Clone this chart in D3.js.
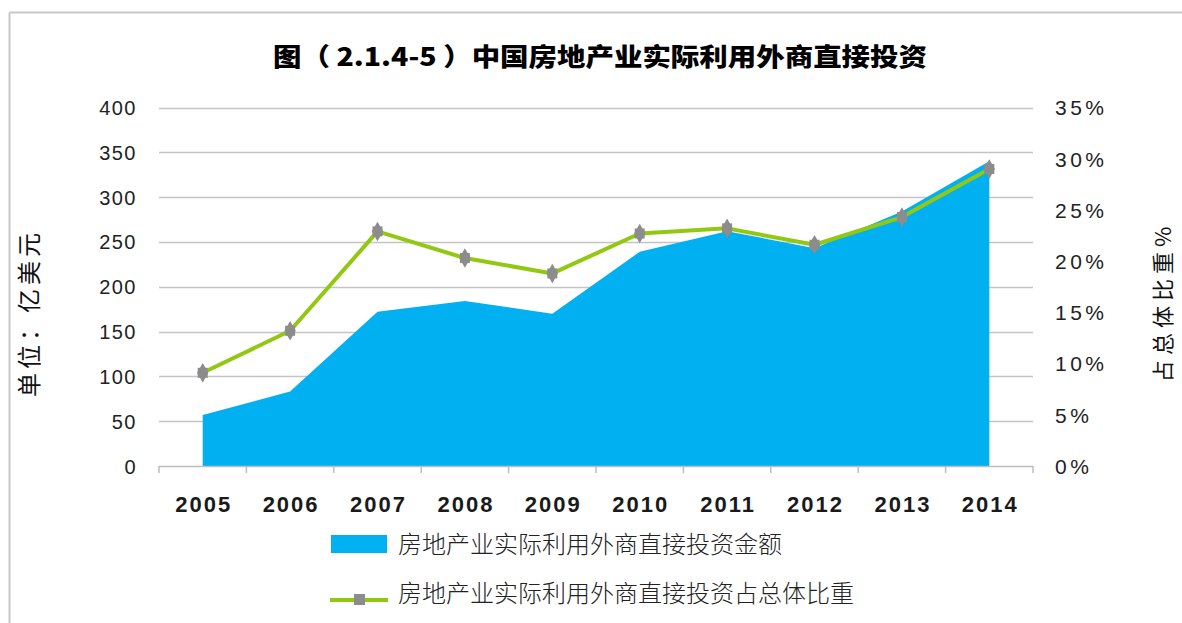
<!DOCTYPE html>
<html><head><meta charset="utf-8">
<script src="https://cdn.jsdelivr.net/npm/d3@7/dist/d3.min.js"></script>
<style>
html,body{margin:0;padding:0;background:#fff;}
svg{display:block;}
</style></head>
<body><svg id="chart" width="1182" height="623"></svg>
<script>
const years = ["2005","2006","2007","2008","2009","2010","2011","2012","2013","2014"];
const amount = [57, 83, 172, 184, 170, 239, 262, 243, 284, 340];
const share = [9.1, 13.2, 22.9, 20.3, 18.8, 22.7, 23.2, 21.6, 24.3, 29.0];
const leftTicks = [0, 50, 100, 150, 200, 250, 300, 350, 400];
const rightTicks = [0, 5, 10, 15, 20, 25, 30, 35];
const titleText = "图（ 2.1.4-5 ）中国房地产业实际利用外商直接投资";
const leftTitle = "单位：亿美元";
const rightTitle = "占总体比重%";
const seriesNames = ["房地产业实际利用外商直接投资金额", "房地产业实际利用外商直接投资占总体比重"];

const svg = d3.select("#chart");
const cjk = "'Noto Sans CJK SC','Noto Sans',sans-serif";
const latin = "'Liberation Sans',Arial,sans-serif";
const blue = "#00B0F0", green = "#92C812", gray = "#8C8C8C";

const L = 159, R = 1033, T = 107.5, B = 466;
const x = d3.scaleBand().domain(years).range([L, R]).padding(0);
const yL = d3.scaleLinear().domain([0, 400]).range([B, T]);
const yR = d3.scaleLinear().domain([0, 35]).range([B, T]);
const cx = d => x(d) + x.bandwidth() / 2;

// frame lines
svg.append("line").attr("x1", 9.5).attr("x2", 1182).attr("y1", 12.5).attr("y2", 12.5).attr("stroke", "#c8c8c8").attr("stroke-width", 2);
svg.append("line").attr("x1", 9.5).attr("x2", 9.5).attr("y1", 12.5).attr("y2", 623).attr("stroke", "#c8c8c8").attr("stroke-width", 2);

// title
svg.append("text").attr("x", 600).attr("y", 66).attr("text-anchor", "middle")
  .attr("font-family", cjk).attr("font-weight", 900).attr("font-size", 25)
  .attr("textLength", 654).attr("lengthAdjust", "spacingAndGlyphs")
  .attr("fill", "#000").text(titleText);

// gridlines
svg.append("g").selectAll("line").data(leftTicks.filter(d => d > 0)).join("line")
  .attr("x1", L).attr("x2", R).attr("y1", d => Math.round(yL(d)) + 0.5).attr("y2", d => Math.round(yL(d)) + 0.5)
  .attr("stroke", "#c4c4c4").attr("stroke-width", 1.5);

// area
const area = d3.area().x((d, i) => cx(years[i])).y0(B).y1(d => yL(d));
svg.append("path").datum(amount).attr("d", area).attr("fill", blue);

// bottom axis
const xAxis = d3.axisBottom(x).tickSize(0).tickPadding(0);
svg.append("line").attr("x1", L).attr("x2", R).attr("y1", B + 0.5).attr("y2", B + 0.5).attr("stroke", "#bdbdbd").attr("stroke-width", 1.5);
const bounds = years.map(d => x(d)).concat([R]);
svg.append("g").selectAll("line").data(bounds).join("line")
  .attr("x1", d => d).attr("x2", d => d).attr("y1", B).attr("y2", B + 7)
  .attr("stroke", "#bdbdbd").attr("stroke-width", 1.5);
const gx = svg.append("g").attr("transform", `translate(${1},${B})`).call(xAxis);
gx.select(".domain").remove();
gx.selectAll("text").attr("y", 46).attr("dy", 0).attr("font-family", latin).attr("font-size", 22).attr("font-weight", 700)
  .attr("letter-spacing", 2).attr("fill", "#1a1a1a").attr("text-anchor", "middle");

// left axis
const gl = svg.append("g").attr("transform", `translate(${L},0)`)
  .call(d3.axisLeft(yL).tickValues(leftTicks).tickSize(0).tickPadding(22).tickFormat(d3.format("d")));
gl.select(".domain").remove();
gl.selectAll("text").attr("font-family", latin).attr("font-size", 20).attr("letter-spacing", 1.5).attr("fill", "#222").attr("dy", "0.35em");

// right axis
const gr = svg.append("g").attr("transform", `translate(${R},0)`)
  .call(d3.axisRight(yR).tickValues(rightTicks).tickSize(0).tickPadding(22).tickFormat(d => d + "%"));
gr.select(".domain").remove();
gr.selectAll("text").attr("font-family", latin).attr("font-size", 21).attr("fill", "#222").attr("dy", "0.35em").attr("letter-spacing", 3.5);

// axis titles
svg.append("text").attr("transform", "translate(38,313) rotate(-90)").attr("text-anchor", "middle")
  .attr("font-family", cjk).attr("font-size", 24).attr("letter-spacing", 4).attr("fill", "#111").text(leftTitle);
svg.append("text").attr("transform", "translate(1171,302) rotate(-90)").attr("text-anchor", "middle")
  .attr("font-family", cjk).attr("font-size", 22).attr("letter-spacing", 5).attr("fill", "#111").text(rightTitle);

// line series
const line = d3.line().x((d, i) => cx(years[i])).y(d => yR(d));
svg.append("path").datum(share).attr("d", line).attr("fill", "none").attr("stroke", green).attr("stroke-width", 4).attr("stroke-linejoin", "round");

function marker(g, px, py) {
  g.append("path").attr("d", d3.symbol(d3.symbolSquare, 100)()).attr("transform", `translate(${px},${py})`).attr("fill", gray);
  g.append("path").attr("d", d3.symbol(d3.symbolDiamond, 110)()).attr("transform", `translate(${px},${py})`).attr("fill", gray);
}
const mg = svg.append("g");
share.forEach((d, i) => marker(mg, cx(years[i]), yR(d)));

// legend
const lg = svg.append("g");
lg.append("rect").attr("x", 331).attr("y", 535).attr("width", 56).attr("height", 18).attr("fill", blue);
lg.append("text").attr("x", 398).attr("y", 545).attr("dy", "0.35em").attr("font-family", cjk).attr("font-weight", 300).attr("font-size", 24).attr("fill", "#222").text(seriesNames[0]);
lg.append("line").attr("x1", 330).attr("x2", 388).attr("y1", 600).attr("y2", 600).attr("stroke", green).attr("stroke-width", 4);
lg.append("rect").attr("x", 354).attr("y", 594).attr("width", 11).attr("height", 11).attr("fill", gray);
lg.append("text").attr("x", 398).attr("y", 594).attr("dy", "0.35em").attr("font-family", cjk).attr("font-weight", 300).attr("font-size", 24).attr("fill", "#222").text(seriesNames[1]);
</script>
</body></html>
